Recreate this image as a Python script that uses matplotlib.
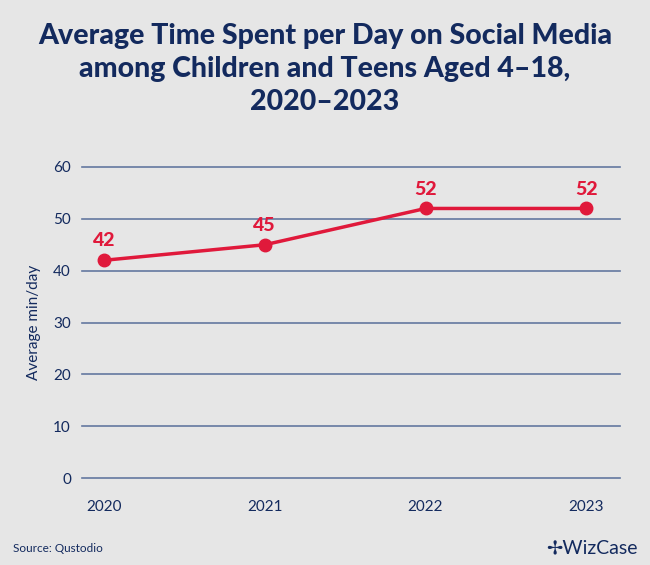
import matplotlib
matplotlib.use("Agg")
import matplotlib.pyplot as plt

years = [2020, 2021, 2022, 2023]
minutes = [42, 45, 52, 52]
yticks = [0, 10, 20, 30, 40, 50, 60]

BG = "#e6e6e6"
NAVY = "#132a5e"
RED = "#e0193b"
GRID = "#6478a0"

plt.rcParams['font.family'] = ['Lato', 'DejaVu Sans']

fig = plt.figure(figsize=(6.5, 5.65), dpi=100, facecolor=BG)
ax = fig.add_axes([82/650, 1-478/565, (620-82)/650, (478-167)/565], facecolor=BG)

ax.set_xlim(2019.863, 2023.21)
ax.set_ylim(0, 60)
ax.set_yticks(yticks)
ax.set_xticks(years)
ax.set_xticklabels([str(y) for y in years])
for s in ax.spines.values():
    s.set_visible(False)
for t in yticks:
    ax.axhline(t, color=GRID, lw=1.2, zorder=1, clip_on=False)
ax.tick_params(axis='both', length=0, labelsize=11, labelcolor=NAVY)
ax.tick_params(axis='y', pad=8)
ax.tick_params(axis='x', pad=16)

ax.plot(years, minutes, color=RED, lw=2.5, marker='o', markersize=9, zorder=3, clip_on=False)
for x, v in zip(years, minutes):
    ax.annotate(str(v), (x, v), xytext=(0, 14), textcoords='offset points',
                ha='center', va='center', color=RED, fontsize=14, fontweight='black')

ax.set_ylabel("Average min/day", color=NAVY, fontsize=11, labelpad=9)

fig.text(0.5, 1-69/565, "Average Time Spent per Day on Social Media\namong Children and Teens Aged 4\u201318,\n2020\u20132023",
         ha='center', va='center', color=NAVY, fontsize=20.5, fontweight='black', linespacing=1.32)

fig.text(13/650, 1-549/565, "Source: Qustodio", ha='left', va='center', color=NAVY, fontsize=8.5)
fig.text(638/650, 1-548/565, "\u2722WizCase", ha='right', va='center', color=NAVY, fontsize=14,
         family=['Lato', 'DejaVu Sans'])

fig.savefig("out.png", dpi=100, facecolor=BG)
